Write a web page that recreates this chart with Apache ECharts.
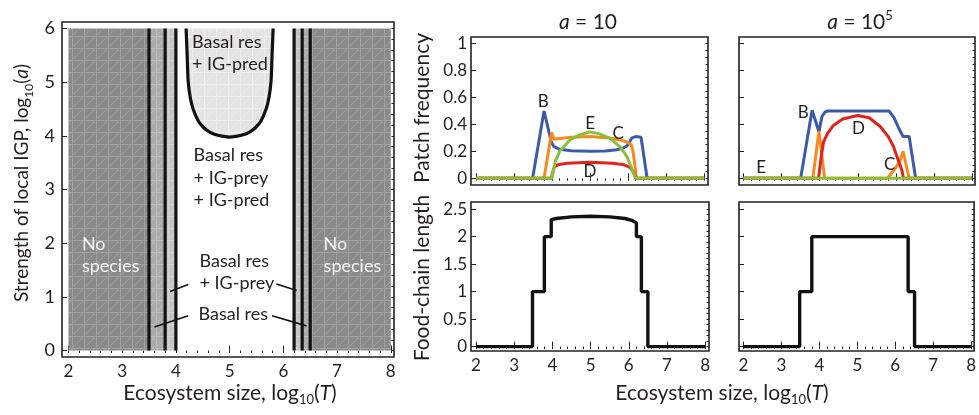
<!DOCTYPE html>
<html><head><meta charset="utf-8">
<script src="https://cdn.jsdelivr.net/npm/echarts@6/dist/echarts.min.js"></script>
<style>html,body{margin:0;padding:0;background:#fff}#c{width:979px;height:415px}</style>
</head><body><div id="c"></div>
<script>
// ================= DATA =================
const xTicks = [2, 3, 4, 5, 6, 7, 8];
const igpTicks = [0, 1, 2, 3, 4, 5, 6];
const freqTicks = [0, 0.2, 0.4, 0.6, 0.8, 1];
const fclTicks = [0, 0.5, 1, 1.5, 2, 2.5];

// Left panel: regions along log10(T)
const regionStart = [2, 3.5, 3.8, 6.2, 6.35, 6.5];
const regionEnd   = [3.5, 3.8, 4.0, 6.35, 6.5, 8];
const regionKind  = ['none', 'basal', 'prey', 'prey', 'basal', 'none'];
const boundaryX   = [3.5, 3.8, 4.0, 6.2, 6.35, 6.5];
// boundary of the "Basal res + IG-pred" region (log10 T, log10 a)
const cupT = [4.19, 4.21, 4.23, 4.27, 4.32, 4.42, 4.52, 4.63, 4.78, 4.95, 5.05, 5.22, 5.37, 5.48, 5.58, 5.68, 5.73, 5.77, 5.79, 5.81];
const cupA = [6.0, 5.5, 5.0, 4.7, 4.5, 4.27, 4.15, 4.07, 4.01, 3.98, 3.98, 4.01, 4.07, 4.15, 4.27, 4.5, 4.7, 5.0, 5.5, 6.0];

// Patch frequency, a = 10
const B_a10 = [[2,0],[3.49,0],[3.79,0.5],[3.98,0.27],[4.05,0.235],[4.2,0.215],[4.5,0.205],[5,0.2],[5.4,0.202],[5.7,0.212],[5.85,0.222],[5.97,0.24],[6.1,0.3],[6.2,0.31],[6.34,0.305],[6.5,0],[8,0]];
const C_a10 = [[2,0],[3.79,0],[3.99,0.34],[4.05,0.29],[4.2,0.295],[4.5,0.305],[5,0.31],[5.5,0.3],[5.8,0.285],[5.97,0.27],[6.08,0.25],[6.13,0.2],[6.22,0],[8,0]];
const D_a10 = [[2,0],[3.98,0],[4.05,0.08],[4.15,0.1],[4.4,0.112],[5,0.12],[5.6,0.112],[5.9,0.1],[6.05,0.08],[6.15,0.04],[6.2,0],[8,0]];
const E_a10 = [[2,0],[4.0,0],[4.08,0.12],[4.2,0.2],[4.47,0.284],[4.7,0.32],[5.0,0.345],[5.25,0.33],[5.53,0.296],[5.8,0.23],[5.97,0.16],[6.1,0.07],[6.2,0],[8,0]];

// Patch frequency, a = 10^5
const B_a1e5 = [[2,0],[3.5,0],[3.8,0.505],[3.98,0.346],[4.06,0.46],[4.15,0.495],[4.22,0.5],[5.82,0.5],[5.95,0.45],[6.08,0.37],[6.19,0.31],[6.35,0.31],[6.52,0],[8,0]];
const C_a1e5 = [[2,0],[3.82,0],[3.98,0.35],[4.13,0],[5.78,0],[5.95,0.06],[6.1,0.12],[6.19,0.2],[6.35,0],[8,0]];
const D_a1e5 = [[2,0],[3.97,0],[4.04,0.16],[4.1,0.27],[4.2,0.33],[4.35,0.39],[4.6,0.44],[5.0,0.467],[5.3,0.45],[5.59,0.385],[5.8,0.31],[5.94,0.235],[6.08,0.12],[6.16,0.06],[6.2,0],[8,0]];
const E_a1e5 = [[2,0],[8,0]];

// Food-chain length
const FCL_a10 = [[2,0],[3.48,0],[3.48,1],[3.79,1],[3.79,2],[3.97,2],[3.97,2.31],[4.1,2.33],[4.5,2.36],[5,2.37],[5.5,2.36],[5.9,2.33],[6.1,2.29],[6.2,2.25],[6.2,2],[6.33,2],[6.33,1],[6.5,1],[6.5,0],[8,0]];
const FCL_a1e5 = [[2,0],[3.48,0],[3.48,1],[3.8,1],[3.8,2],[6.34,2],[6.34,1],[6.51,1],[6.51,0],[8,0]];

// Left panel annotations (text, log10 T, log10 a, color)
const leftText  = ['Basal res', '+ IG-pred', 'Basal res', '+ IG-prey', '+ IG-pred', 'No', 'species', 'No', 'species', 'Basal res', '+ IG-prey', 'Basal res'];
const leftTextX = [4.30, 4.30, 4.33, 4.33, 4.33, 2.25, 2.25, 6.75, 6.75, 4.44, 4.44, 4.42];
const leftTextY = [5.74, 5.33, 3.64, 3.22, 2.81, 1.99, 1.57, 1.99, 1.57, 1.66, 1.26, 0.67];
const leftTextWhite = [0,0,0,0,0,1,1,1,1,0,0,0];
// leader lines [x0,y0,x1,y1]
const leaders = [[3.89,1.10,4.23,1.23],[5.87,1.24,6.25,1.12],[3.60,0.44,4.23,0.65],[5.79,0.65,6.43,0.46]];

// curve labels
const lblA10 = ['B','E','C','D'], lblA10X = [3.77, 5.0, 5.74, 5.0], lblA10Y = [0.57, 0.41, 0.33, 0.05];
const lblA1e5 = ['B','D','C','E'], lblA1e5X = [3.57, 5.02, 5.84, 2.46], lblA1e5Y = [0.49, 0.37, 0.10, 0.08];

// ================= STYLE / LAYOUT =================
const F = 'Lato, "Open Sans", sans-serif';
const INK = '#231f20';
const COL = {B: '#3c5aa8', C: '#f58a1f', D: '#e2231b', E: '#86c13b'};

function range(a, b, s) { const r = []; for (let v = a; v <= b + 1e-9; v += s) r.push(+v.toFixed(4)); return r; }

function makePattern(base, line, diag) {
  const c = document.createElement('canvas');
  c.width = 12; c.height = 12;
  const g = c.getContext('2d');
  g.fillStyle = base; g.fillRect(0, 0, 12, 12);
  g.strokeStyle = line; g.lineWidth = 1;
  g.beginPath(); g.moveTo(0.5, 0); g.lineTo(0.5, 12); g.moveTo(0, 0.5); g.lineTo(12, 0.5); g.stroke();
  g.strokeStyle = diag; g.beginPath(); g.moveTo(0, 12); g.lineTo(12, 0); g.stroke();
  return {image: c, repeat: 'repeat'};
}
const PAT = {
  none: makePattern('#8a8a8a', '#a2a2a2', '#9c9c9c'),
  basal: makePattern('#acacac', '#bdbdbd', '#b8b8b8'),
  prey: makePattern('#c6c6c6', '#d4d4d4', '#cfcfcf'),
  cup: makePattern('#e4e4e4', '#eeeeee', '#ebebeb')
};

const grids = [
  {left: 62, top: 22, width: 332, height: 335, xmin: 1.88, xmax: 8.06, ymin: -0.12, ymax: 6.12},
  {left: 471, top: 37, width: 237, height: 148, xmin: 1.87, xmax: 8.1, ymin: -0.05, ymax: 1.05},
  {left: 739, top: 37, width: 236, height: 148, xmin: 1.88, xmax: 8.08, ymin: -0.05, ymax: 1.05},
  {left: 471, top: 202, width: 238, height: 149, xmin: 1.87, xmax: 8.1, ymin: -0.08, ymax: 2.63},
  {left: 739, top: 202, width: 236, height: 149, xmin: 1.88, xmax: 8.08, ymin: -0.08, ymax: 2.63}
];
const yMajor = [igpTicks, freqTicks, freqTicks, fclTicks, fclTicks];
const yMinor = [range(0, 6, 0.2), range(0, 1, 0.05), range(0, 1, 0.05), range(0, 2.5, 0.1), range(0, 2.5, 0.1)];
const xLabelShow = [true, false, false, true, true];
const yLabelShow = [true, true, false, true, false];
const xMinor = range(2, 8, 0.2);

const gridOpts = grids.map(g => ({left: g.left, top: g.top, width: g.width, height: g.height,
  show: true, borderColor: '#222', borderWidth: 1.6, backgroundColor: 'transparent'}));

const xAxes = [], yAxes = [];
grids.forEach((g, i) => {
  const base = {gridIndex: i, type: 'value', min: g.xmin, max: g.xmax, axisLine: {show: false}, splitLine: {show: false}};
  xAxes.push(Object.assign({}, base, {
    axisTick: {show: true, inside: true, length: 5, customValues: xTicks, lineStyle: {color: INK, width: 1}},
    axisLabel: {show: xLabelShow[i], customValues: xTicks, fontSize: 17, fontFamily: F, color: INK, margin: 6}
  }));
  xAxes.push(Object.assign({}, base, {
    axisTick: {show: true, inside: true, length: 2.5, customValues: xMinor, lineStyle: {color: INK, width: 1}},
    axisLabel: {show: false}
  }));
  const ybase = {gridIndex: i, type: 'value', min: g.ymin, max: g.ymax, axisLine: {show: false}, splitLine: {show: false}};
  yAxes.push(Object.assign({}, ybase, {
    axisTick: {show: true, inside: true, length: 5, customValues: yMajor[i], lineStyle: {color: INK, width: 1}},
    axisLabel: {show: yLabelShow[i], customValues: yMajor[i], fontSize: i === 0 ? 18 : 17, fontFamily: F, color: INK, margin: i === 0 ? 7 : 4}
  }));
  yAxes.push(Object.assign({}, ybase, {
    axisTick: {show: true, inside: true, length: 2.5, customValues: yMinor[i], lineStyle: {color: INK, width: 1}},
    axisLabel: {show: false}
  }));
});

const series = [];
// --- left panel ---
series.push({
  type: 'custom', xAxisIndex: 0, yAxisIndex: 0, silent: true, z: 1,
  data: regionStart.map((s, i) => [s, regionEnd[i]]),
  renderItem: (params, api) => {
    const p0 = api.coord([api.value(0), 6]);
    const p1 = api.coord([api.value(1), 0]);
    return {type: 'rect', shape: {x: p0[0], y: p0[1], width: p1[0] - p0[0], height: p1[1] - p0[1]},
      style: {fill: PAT[regionKind[params.dataIndex]]}};
  }
});
series.push({
  type: 'custom', xAxisIndex: 0, yAxisIndex: 0, silent: true, z: 2,
  data: [[cupT[0], cupA[0]]],
  renderItem: (params, api) => {
    const pts = cupT.map((t, k) => api.coord([t, cupA[k]]));
    return {type: 'group', children: [
      {type: 'polygon', shape: {points: pts}, style: {fill: PAT.cup}},
      {type: 'polyline', shape: {points: pts, smooth: 0.3}, style: {stroke: '#111', lineWidth: 3.2, fill: null}}
    ]};
  }
});
series.push({
  type: 'custom', xAxisIndex: 0, yAxisIndex: 0, silent: true, z: 3,
  data: boundaryX.map(x => [x, 0]),
  renderItem: (params, api) => {
    const a = api.coord([api.value(0), 0]);
    const b = api.coord([api.value(0), 6]);
    return {type: 'line', shape: {x1: a[0], y1: a[1], x2: b[0], y2: b[1]}, style: {stroke: '#111', lineWidth: 3.2}};
  }
});
series.push({
  type: 'custom', xAxisIndex: 0, yAxisIndex: 0, silent: true, z: 4,
  data: leaders.map(l => [l[0], l[1]]),
  renderItem: (params, api) => {
    const l = leaders[params.dataIndex];
    const a = api.coord([l[0], l[1]]), b = api.coord([l[2], l[3]]);
    return {type: 'line', shape: {x1: a[0], y1: a[1], x2: b[0], y2: b[1]}, style: {stroke: '#111', lineWidth: 1.6}};
  }
});
series.push({
  type: 'custom', xAxisIndex: 0, yAxisIndex: 0, silent: true, z: 5,
  data: leftTextX.map((x, i) => [x, leftTextY[i]]),
  renderItem: (params, api) => {
    const i = params.dataIndex;
    const p = api.coord([leftTextX[i], leftTextY[i]]);
    return {type: 'text', x: p[0], y: p[1], style: {text: leftText[i], fill: leftTextWhite[i] ? '#f4f4f4' : INK,
      font: '18px ' + F, align: 'left', verticalAlign: 'middle'}};
  }
});

// --- frequency panels ---
function freqLines(gi, arrs) {
  const names = ['B', 'C', 'D', 'E'];
  arrs.forEach((d, k) => series.push({
    type: 'line', xAxisIndex: gi * 2, yAxisIndex: gi * 2, data: d, showSymbol: false, symbol: 'none',
    lineStyle: {color: COL[names[k]], width: 3}, z: 2 + k, animation: false
  }));
}
freqLines(1, [B_a10, C_a10, D_a10, E_a10]);
freqLines(2, [B_a1e5, C_a1e5, D_a1e5, E_a1e5]);

function labelSeries(gi, txt, xs, ys) {
  series.push({
    type: 'custom', xAxisIndex: gi * 2, yAxisIndex: gi * 2, silent: true, z: 10,
    data: xs.map((x, i) => [x, ys[i]]),
    renderItem: (params, api) => {
      const i = params.dataIndex;
      const p = api.coord([xs[i], ys[i]]);
      return {type: 'text', x: p[0], y: p[1], style: {text: txt[i], fill: INK, font: '17px ' + F, align: 'center', verticalAlign: 'middle'}};
    }
  });
}
labelSeries(1, lblA10, lblA10X, lblA10Y);
labelSeries(2, lblA1e5, lblA1e5X, lblA1e5Y);

// --- food chain length ---
[[3, FCL_a10], [4, FCL_a1e5]].forEach(([gi, d]) => series.push({
  type: 'line', xAxisIndex: gi * 2, yAxisIndex: gi * 2, data: d, showSymbol: false, symbol: 'none',
  lineStyle: {color: '#111', width: 3.4}, animation: false
}));

// --- titles / axis names ---
function richSet(sz) {
  return {
    n: {fontSize: sz, fontFamily: F, fill: INK, lineHeight: 26, verticalAlign: 'middle'},
    i: {fontSize: sz, fontFamily: F, fontStyle: 'italic', fill: INK, lineHeight: 26, verticalAlign: 'middle'},
    s: {fontSize: Math.round(sz * 0.62), fontFamily: F, fill: INK, lineHeight: 15, verticalAlign: 'bottom'},
    sup: {fontSize: Math.round(sz * 0.62), fontFamily: F, fill: INK, lineHeight: 11, verticalAlign: 'top'}
  };
}
function gtext(x, y, text, sz, rot) {
  return {type: 'text', x: x, y: y, rotation: rot || 0, silent: true,
    style: {text: text, rich: richSet(sz), align: 'center', verticalAlign: 'middle'}};
}
const xTitle = '{n|Ecosystem size, log}{s|10}{n|(}{i|T}{n|)}';
const graphic = [
  gtext(22, 183, '{n|Strength of local IGP, log}{s|10}{n|(}{i|a}{n|)}', 19, Math.PI / 2),
  gtext(230, 393, xTitle, 21),
  gtext(722, 393, xTitle, 21),
  gtext(422, 108, '{n|Patch frequency}', 21, Math.PI / 2),
  gtext(422, 278, '{n|Food-chain length}', 21, Math.PI / 2),
  gtext(588, 22, '{i|a}{n| = 10}', 21),
  gtext(860, 22, '{i|a}{n| = 10}{sup|5}', 21)
];

const chart = echarts.init(document.getElementById('c'), null, {renderer: 'canvas'});
chart.setOption({
  animation: false,
  backgroundColor: '#fff',
  grid: gridOpts,
  xAxis: xAxes,
  yAxis: yAxes,
  series: series,
  graphic: graphic
});
</script></body></html>
